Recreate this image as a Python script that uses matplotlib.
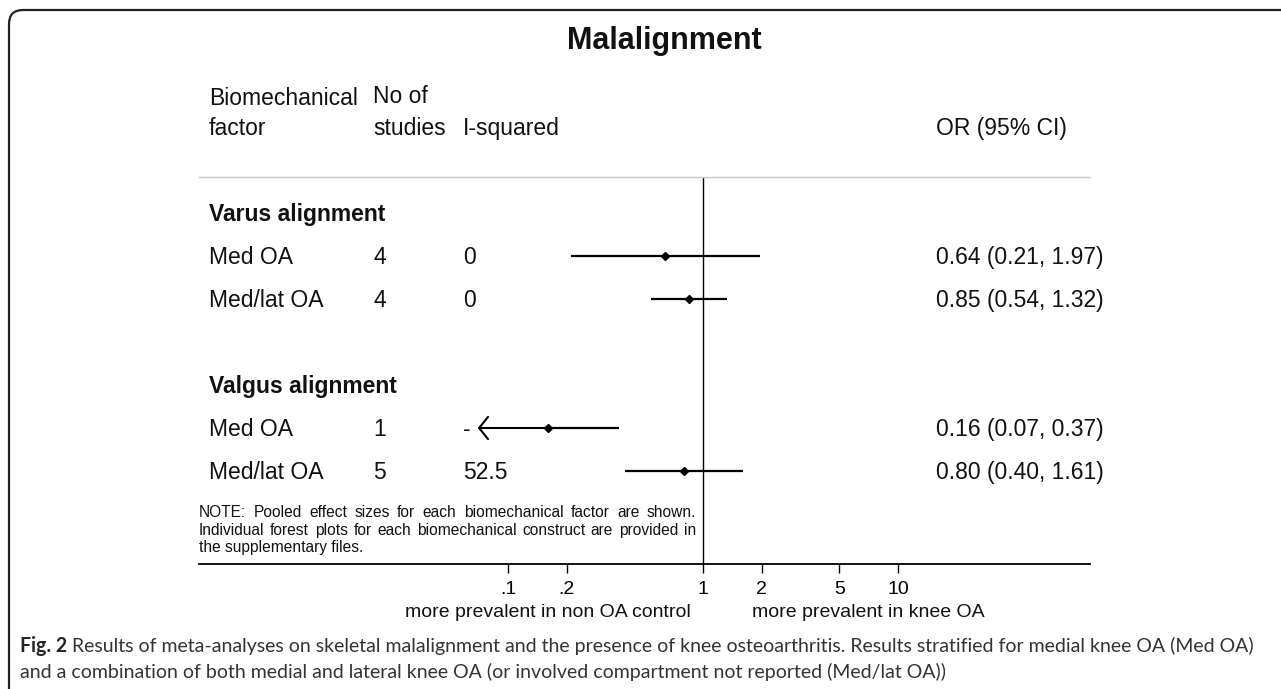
import matplotlib
matplotlib.use("Agg")
import matplotlib.pyplot as plt
from matplotlib.patches import FancyBboxPatch
from matplotlib.transforms import blended_transform_factory
from matplotlib.font_manager import FontProperties

# data
groups = ["Varus alignment", "Valgus alignment"]
group_rows = [0, 4]
labels = ["Med OA", "Med/lat OA", "Med OA", "Med/lat OA"]
rows = [1, 2, 5, 6]
n_studies = ["4", "4", "1", "5"]
i_squared = ["0", "0", "-", "52.5"]
or_est = [0.64, 0.85, 0.16, 0.80]
ci_lo = [0.21, 0.54, 0.07, 0.40]
ci_hi = [1.97, 1.32, 0.37, 1.61]
arrow_left = [False, False, True, False]

xticks = [0.1, 0.2, 1, 2, 5, 10]
xticklabels = [".1", ".2", "1", "2", "5", "10"]

note_lines = [
    "NOTE: Pooled effect sizes for each biomechanical factor are shown.",
    "Individual forest plots for each biomechanical construct are provided in",
    "the supplementary files.",
]
caption_bold = "Fig. 2"
caption_lines = [
    "Results of meta-analyses on skeletal malalignment and the presence of knee osteoarthritis. Results stratified for medial knee OA (Med OA)",
    "and a combination of both medial and lateral knee OA (or involved compartment not reported (Med/lat OA))",
]

W, H = 1281, 689
FONT = "Liberation Sans"
CAPFONT = "Lato"

fig = plt.figure(figsize=(W / 100, H / 100), dpi=100)
fig.patch.set_facecolor("white")


def fx(px):
    return px / W


def fy(py):
    return 1 - py / H


# frame with rounded corner, running off right and bottom
frame = FancyBboxPatch((9, -30), 1320, 689 - 10 + 30, boxstyle="round,pad=0,rounding_size=14",
                       transform=None, fill=False, ec="#222222", lw=1.6)
fig.patches.append(frame)

# plot axes: pixel box 199..1090 x 177..564
left, right, top, bottom = 199, 1090, 177, 564
ax = fig.add_axes([fx(left), fy(bottom), (right - left) / W, (bottom - top) / H])
ax.set_xscale("log")
dec = 195.0  # pixels per decade
ax.set_xlim(10 ** ((left - 703) / dec), 10 ** ((right - 703) / dec))
row_h = 43.0
ax.set_ylim((bottom - 213) / row_h, (top - 213) / row_h)

for s in ["left", "right"]:
    ax.spines[s].set_visible(False)
ax.spines["top"].set_color("#c8c8c8")
ax.spines["top"].set_linewidth(1.0)
ax.spines["bottom"].set_linewidth(1.3)
ax.set_yticks([])
ax.set_xticks(xticks)
ax.set_xticklabels(xticklabels, fontsize=14, family=FONT)
ax.minorticks_off()
ax.tick_params(axis="x", direction="out", length=6.5, width=1.0, pad=6)

ax.axvline(1, color="black", lw=1.0)

for y, est, lo, hi, arr in zip(rows, or_est, ci_lo, ci_hi, arrow_left):
    if arr:
        ax.plot([est, hi], [y, y], color="black", lw=1.6, solid_capstyle="butt")
        ax.annotate("", xy=(lo, y), xytext=(est, y),
                    arrowprops=dict(arrowstyle="->,head_length=0.32,head_width=0.4",
                                    lw=1.5, color="black", shrinkA=0, shrinkB=0,
                                    mutation_scale=20))
    else:
        ax.plot([lo, hi], [y, y], color="black", lw=1.6, solid_capstyle="butt")
    ax.plot([est], [y], marker="D", ms=4.5, color="black")

# table columns (x in pixels -> axes fraction, y in rows)
tr = blended_transform_factory(ax.transAxes, ax.transData)


def colx(px):
    return (px - left) / (right - left)


base = 8.2 / row_h
fs = 16.5
for g, y in zip(groups, group_rows):
    ax.text(colx(209), y + base, g, transform=tr, fontsize=fs, family=FONT,
            weight="bold", va="baseline", color="#111111")
for y, lab, n, i2, est, lo, hi in zip(rows, labels, n_studies, i_squared, or_est, ci_lo, ci_hi):
    kw = dict(transform=tr, fontsize=fs, family=FONT, va="baseline", color="#111111")
    ax.text(colx(209), y + base, lab, **kw)
    ax.text(colx(373), y + base, n, **kw)
    ax.text(colx(463), y + base, i2, **kw)
    ax.text(colx(936), y + base, f"{est:.2f} ({lo:.2f}, {hi:.2f})", **kw)

# headers
hk = dict(fontsize=fs, family=FONT, va="baseline", color="#111111")
fig.text(fx(209), fy(105), "Biomechanical", **hk)
fig.text(fx(209), fy(135), "factor", **hk)
fig.text(fx(373), fy(103), "No of", **hk)
fig.text(fx(373), fy(135), "studies", **hk)
fig.text(fx(463), fy(135), "I-squared", **hk)
fig.text(fx(936), fy(135), "OR (95% CI)", **hk)
fig.text(fx(664), fy(49), "Malalignment", fontsize=22, family=FONT, weight="bold",
         ha="center", va="baseline", color="#111111")

# axis direction labels
fig.text(fx(691), fy(617), "more prevalent in non OA control", fontsize=14, family=FONT,
         ha="right", va="baseline", color="#111111")
fig.text(fx(752), fy(617), "more prevalent in knee OA", fontsize=14, family=FONT,
         ha="left", va="baseline", color="#111111")

# justified note
fig.canvas.draw()
rend = fig.canvas.get_renderer()
note_fp = FontProperties(family=FONT, size=11.2)


def width(s, fp):
    w, h, d = rend.get_text_width_height_descent(s, fp, ismath=False)
    return w


note_y = [517, 535, 552]
for k, (line, yy) in enumerate(zip(note_lines, note_y)):
    if k == len(note_lines) - 1:
        fig.text(fx(199), fy(yy), line, fontproperties=note_fp, va="baseline", color="#111111")
        continue
    words = line.split()
    ws = [width(w_, note_fp) for w_ in words]
    gap = (696 - 199 - sum(ws)) / (len(words) - 1)
    x = 199
    for w_, wd in zip(words, ws):
        fig.text(fx(x), fy(yy), w_, fontproperties=note_fp, va="baseline", color="#111111")
        x += wd + gap

# caption, sized so the first line runs to the right edge like the reference
cap_size = 13.2
full = caption_bold + " " + caption_lines[0]
cw = width(full, FontProperties(family=CAPFONT, size=cap_size))
cap_size = cap_size * (1262 - 20) / cw
cap_fp = FontProperties(family=CAPFONT, size=cap_size)
capb_fp = FontProperties(family=CAPFONT, size=cap_size, weight="bold")
fig.text(fx(20), fy(652), caption_bold, fontproperties=capb_fp, va="baseline", color="#222222")
bw = width(caption_bold + " ", capb_fp)
fig.text(fx(20 + bw), fy(652), caption_lines[0], fontproperties=cap_fp, va="baseline", color="#333333")
fig.text(fx(20), fy(678), caption_lines[1], fontproperties=cap_fp, va="baseline", color="#333333")

fig.savefig("out.png", dpi=100)
